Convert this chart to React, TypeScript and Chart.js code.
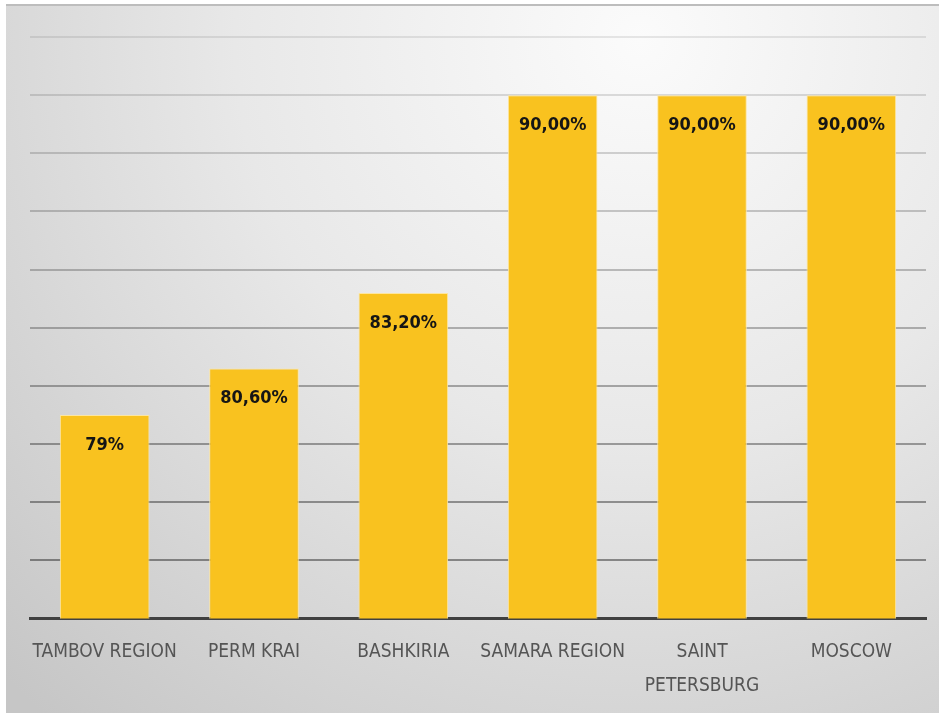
import React, { useEffect, useRef } from "react";
import { Chart, registerables } from "chart.js";

Chart.register(...registerables);

const categories: (string | string[])[] = [
  "TAMBOV REGION",
  "PERM KRAI",
  "BASHKIRIA",
  "SAMARA REGION",
  ["SAINT", "PETERSBURG"],
  "MOSCOW",
];
const values = [79, 80.6, 83.2, 90, 90, 90];
const valueLabels = ["79%", "80,60%", "83,20%", "90,00%", "90,00%", "90,00%"];
const yMin = 72;
const yMax = 92;
const yStep = 2;

const FONT = "'Liberation Sans Narrow', 'DejaVu Sans Condensed', 'Liberation Sans', sans-serif";

const backgroundPlugin = {
  id: "bg",
  beforeDraw(chart: any) {
    const { ctx, width, height } = chart;
    ctx.save();
    ctx.fillStyle = "#ffffff";
    ctx.fillRect(0, 0, width, height);
    const g = ctx.createRadialGradient(640, 40, 0, 640, 40, 900);
    g.addColorStop(0, "#fbfbfb");
    g.addColorStop(0.45, "#e8e8e8");
    g.addColorStop(1, "#c6c6c6");
    ctx.fillStyle = g;
    ctx.fillRect(6, 4, width - 6, height - 4);
    ctx.strokeStyle = "#bdbdbd";
    ctx.lineWidth = 2;
    ctx.beginPath();
    ctx.moveTo(6, 5);
    ctx.lineTo(width, 5);
    ctx.stroke();
    ctx.restore();
  },
};

const valueLabelPlugin = {
  id: "valueLabels",
  afterDatasetsDraw(chart: any) {
    const { ctx } = chart;
    const meta = chart.getDatasetMeta(0);
    ctx.save();
    ctx.font = `bold 18px ${FONT}`;
    ctx.fillStyle = "#151515";
    ctx.textAlign = "center";
    ctx.textBaseline = "middle";
    meta.data.forEach((bar: any, i: number) => {
      ctx.fillText(valueLabels[i], bar.x, bar.y + 30);
    });
    ctx.restore();
  },
};

export default function App() {
  const ref = useRef<HTMLCanvasElement | null>(null);
  useEffect(() => {
    if (!ref.current) return;
    const chart = new Chart(ref.current, {
      type: "bar",
      data: {
        labels: categories,
        datasets: [
          {
            data: values,
            backgroundColor: "#f9c21f",
            borderColor: "#fde6a0",
            borderWidth: 1,
            categoryPercentage: 1,
            barPercentage: 0.6,
          },
        ],
      },
      options: {
        animation: false,
        responsive: false,
        maintainAspectRatio: false,
        layout: { padding: { left: 30, right: 13, top: 37, bottom: -6 } },
        plugins: { legend: { display: false }, tooltip: { enabled: false } },
        scales: {
          x: {
            grid: { display: false, drawTicks: false },
            border: { display: true, color: "#404040", width: 3 },
            ticks: {
              color: "#555555",
              padding: 16,
              font: { family: FONT, size: 19, lineHeight: 1.8 },
              maxRotation: 0,
              autoSkip: false,
            },
          },
          y: {
            min: yMin,
            max: yMax,
            ticks: { display: false, stepSize: yStep },
            border: { display: false },
            grid: {
              color: (c: any) => {
                const v = c.tick ? c.tick.value : 80;
                const a = Math.max(0.08, Math.min(0.4, 0.16 + (88 - v) * 0.018));
                return `rgba(0,0,0,${a.toFixed(3)})`;
              },
              lineWidth: 2,
              drawTicks: false,
            },
          },
        },
      },
      plugins: [backgroundPlugin, valueLabelPlugin],
    });
    return () => chart.destroy();
  }, []);
  return (
    <div style={{ position: "absolute", left: 0, top: 0, width: 939, height: 713 }}>
      <canvas ref={ref} width={939} height={713} style={{ display: "block" }} />
    </div>
  );
}
